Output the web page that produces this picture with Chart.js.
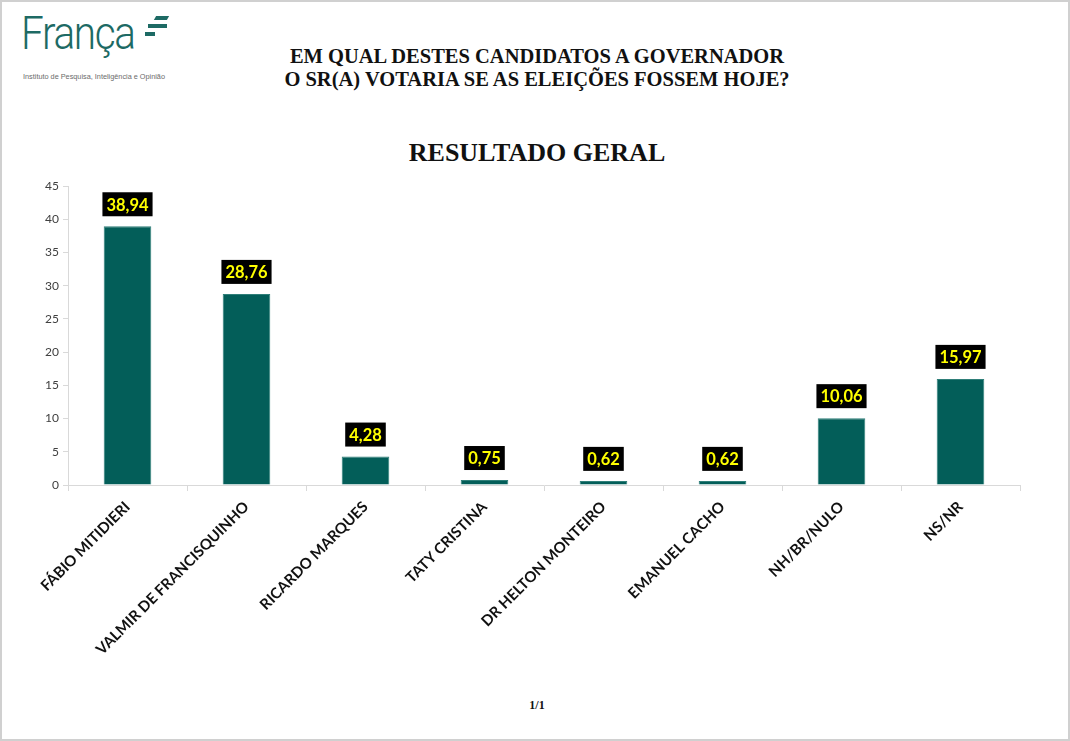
<!DOCTYPE html>
<html>
<head>
<meta charset="utf-8">
<script src="https://cdn.jsdelivr.net/npm/chart.js@4"></script>
<style>
  html, body { margin: 0; padding: 0; background: #fff; }
  #page {
    position: relative; width: 1066px; height: 737px;
    border: 2px solid #d0d0d0; overflow: hidden;
  }
  #logo { position: absolute; left: 19px; top: 4px; color: #1d6a64; }
  #logo .name {
    font-family: Roboto, sans-serif; font-weight: 300; font-size: 46px;
    letter-spacing: -1.5px; display: inline-block; transform: scaleX(0.88); transform-origin: left;
  }
  #logo .mark { position: absolute; left: 124px; top: 10px; width: 24px; height: 22px; }
  #logo .mark div { position: absolute; background: #1d6a64; height: 4px; }
  #logo .sub {
    position: absolute; left: 2px; top: 66px; white-space: nowrap;
    font-family: "Liberation Sans", sans-serif; font-size: 7.3px; color: #6b6b6b;
  }
  .ttl { position: absolute; left: 0; width: 1070px; text-align: center;
    font-family: "Liberation Serif", serif; font-weight: bold; color: #111; }
  #t1 { top: 43px; font-size: 20.5px; line-height: 23px; }
  #t2 { top: 136px; font-size: 26px; }
  #t3 { top: 696px; font-size: 12px; }
  #chart { position: absolute; left: -2px; top: -2px; }
</style>
</head>
<body>
<div id="page">
  <div id="logo">
    <span class="name">França</span>
    <div class="mark">
      <div style="left:10px;top:0;width:13px;transform:skewX(-30deg)"></div>
      <div style="left:3px;top:8px;width:19px"></div>
      <div style="left:0;top:16px;width:10px"></div>
    </div>
    <div class="sub">Instituto de Pesquisa, Inteligência e Opinião</div>
  </div>
  <div class="ttl" id="t1">EM QUAL DESTES CANDIDATOS A GOVERNADOR<br>O SR(A) VOTARIA SE AS ELEIÇÕES FOSSEM HOJE?</div>
  <div class="ttl" id="t2">RESULTADO GERAL</div>
  <div class="ttl" id="t3">1/1</div>
  <canvas id="chart" width="1070" height="741"></canvas>
</div>
<script>
  // chart data
  const categories = ['FÁBIO MITIDIERI', 'VALMIR DE FRANCISQUINHO', 'RICARDO MARQUES', 'TATY CRISTINA',
    'DR HELTON MONTEIRO', 'EMANUEL CACHO', 'NH/BR/NULO', 'NS/NR'];
  const values = [38.94, 28.76, 4.28, 0.75, 0.62, 0.62, 10.06, 15.97];
  const yMax = 45;
  const yStep = 5;

  const barColor = '#035e59';
  const axisColor = '#d9d9d9';

  // black box with yellow value above each bar
  const valueBoxes = {
    id: 'valueBoxes',
    afterDatasetsDraw(chart) {
      const ctx = chart.ctx;
      const meta = chart.getDatasetMeta(0);
      ctx.save();
      ctx.font = 'bold 16.5px Lato, sans-serif';
      ctx.textAlign = 'center';
      ctx.textBaseline = 'middle';
      meta.data.forEach((bar, i) => {
        const txt = values[i].toFixed(2).replace('.', ',');
        const w = ctx.measureText(txt).width + 8;
        const h = 24;
        const bottom = bar.y - 10;
        ctx.fillStyle = '#000';
        ctx.fillRect(bar.x - w / 2, bottom - h, w, h);
        ctx.fillStyle = '#ffff00';
        ctx.fillText(txt, bar.x, bottom - h / 2 + 1);
      });
      ctx.restore();
    }
  };

  new Chart(document.getElementById('chart'), {
    type: 'bar',
    data: {
      labels: categories,
      datasets: [{
        data: values,
        backgroundColor: barColor,
        borderColor: '#2f7f79',
        borderWidth: 1,
        barPercentage: 0.4,
        categoryPercentage: 1
      }]
    },
    options: {
      responsive: false,
      animation: false,
      layout: { padding: { left: 0, right: 50, top: 186, bottom: 0 } },
      plugins: { legend: { display: false }, tooltip: { enabled: false } },
      scales: {
        x: {
          afterFit(scale) { scale.height = 256; },
          grid: { drawOnChartArea: false, color: axisColor, tickLength: 6 },
          border: { color: axisColor },
          ticks: {
            minRotation: 45, maxRotation: 45, padding: 7,
            color: '#111', font: { family: 'Lato, sans-serif', weight: 'bold', size: 15 }
          }
        },
        y: {
          min: 0, max: yMax,
          afterFit(scale) { scale.width = 68; },
          grid: { drawOnChartArea: false, color: axisColor, tickLength: 5 },
          border: { color: axisColor },
          ticks: {
            stepSize: yStep, padding: 4,
            color: '#404040', font: { family: 'Lato, sans-serif', size: 12 }
          }
        }
      }
    },
    plugins: [valueBoxes]
  });
</script>
</body>
</html>
